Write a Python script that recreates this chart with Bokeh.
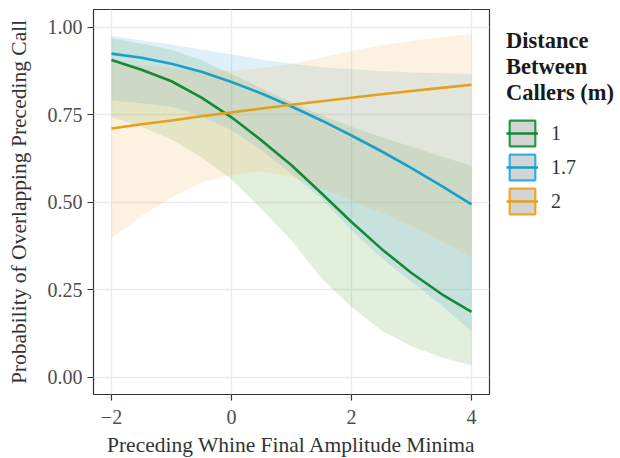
from bokeh.plotting import figure
from bokeh.models import FixedTicker, Legend, LegendItem, Range1d
from bokeh.embed import file_html
from bokeh.resources import INLINE

# ---- data ----
x_vals = [-2.0, -1.5, -1.0, -0.5, 0.0, 0.5, 1.0, 1.5, 2.0, 2.5, 3.0, 3.5, 4.0]

fit_1 = [0.906, 0.878, 0.845, 0.798, 0.742, 0.676, 0.605, 0.525, 0.443, 0.366, 0.297, 0.237, 0.186]
upr_1 = [0.968, 0.953, 0.935, 0.905, 0.866, 0.825, 0.785, 0.748, 0.715, 0.685, 0.658, 0.630, 0.604]
lwr_1 = [0.742, 0.715, 0.678, 0.628, 0.564, 0.480, 0.390, 0.282, 0.200, 0.133, 0.088, 0.056, 0.033]

fit_17 = [0.924, 0.912, 0.895, 0.872, 0.843, 0.810, 0.773, 0.733, 0.690, 0.645, 0.597, 0.546, 0.493]
upr_17 = [0.974, 0.962, 0.950, 0.936, 0.922, 0.907, 0.895, 0.886, 0.879, 0.874, 0.870, 0.868, 0.866]
lwr_17 = [0.790, 0.782, 0.772, 0.745, 0.705, 0.648, 0.580, 0.510, 0.420, 0.340, 0.272, 0.205, 0.129]

fit_2 = [0.710, 0.722, 0.733, 0.745, 0.756, 0.767, 0.778, 0.788, 0.798, 0.808, 0.817, 0.826, 0.835]
upr_2 = [0.900, 0.890, 0.882, 0.877, 0.876, 0.882, 0.895, 0.913, 0.932, 0.948, 0.961, 0.971, 0.980]
lwr_2 = [0.396, 0.460, 0.513, 0.556, 0.578, 0.588, 0.572, 0.540, 0.505, 0.470, 0.430, 0.387, 0.341]

groups = ["1", "1.7", "2"]
x_ticks = [-2, 0, 2, 4]
x_tick_labels = ["\u22122", "0", "2", "4"]
y_ticks = [0.0, 0.25, 0.5, 0.75, 1.0]
y_tick_labels = ["0.00", "0.25", "0.50", "0.75", "1.00"]

line_colors = ["#128a3a", "#1aa0c8", "#e3a01b"]
fill_colors = ["#44941c", "#2a9bde", "#f2a837"]
key_border = ["#1f9a45", "#35ade0", "#f2a51e"]

FONT = "Liberation Serif"

p = figure(frame_width=396, frame_height=385, output_backend="svg", toolbar_location=None,
           x_range=Range1d(-2.3, 4.3), y_range=Range1d(-0.05, 1.05),
           min_border_left=93, min_border_right=131, min_border_top=9, min_border_bottom=62)
p.background_fill_color = "white"
p.border_fill_color = "white"
p.outline_line_color = "#333333"
p.outline_line_width = 1.2

fits = [fit_1, fit_17, fit_2]
uprs = [upr_1, upr_17, upr_2]
lwrs = [lwr_1, lwr_17, lwr_2]

for i in range(3):
    p.varea(x=x_vals, y1=lwrs[i], y2=uprs[i], fill_color=fill_colors[i], fill_alpha=0.15)

line_rs = []
for i in range(3):
    r = p.line(x_vals, fits[i], line_color=line_colors[i], line_width=2.6)
    line_rs.append(r)

key_rs = []
for i in range(3):
    k = p.quad(left=[float("nan")], right=[float("nan")], top=[float("nan")], bottom=[float("nan")],
               fill_color="#d4d4d4", line_color=key_border[i], line_width=2.2)
    key_rs.append(k)

# axes
for ax in (p.xaxis[0], p.yaxis[0]):
    ax.axis_line_color = None
    ax.major_tick_line_color = "#333333"
    ax.major_tick_line_width = 1.2
    ax.major_tick_out = 6
    ax.major_tick_in = 0
    ax.minor_tick_line_color = None
    ax.major_label_text_font = FONT
    ax.major_label_text_font_size = "20px"
    ax.major_label_text_color = "#4d4d4d"
    ax.axis_label_text_font = FONT
    ax.axis_label_text_font_size = "21.5px"
    ax.axis_label_text_font_style = "normal"
    ax.axis_label_text_color = "#333333"

p.xaxis.ticker = FixedTicker(ticks=x_ticks)
p.yaxis.ticker = FixedTicker(ticks=y_ticks)
p.xaxis.major_label_overrides = {t: l for t, l in zip(x_ticks, x_tick_labels)}
p.yaxis.major_label_overrides = {t: l for t, l in zip(y_ticks, y_tick_labels)}
p.xaxis.axis_label = "Preceding Whine Final Amplitude Minima"
p.yaxis.axis_label = "Probability of Overlapping Preceding Call"
p.xaxis.major_label_standoff = 9
p.yaxis.major_label_standoff = 5
p.xaxis.axis_label_standoff = 6
p.yaxis.axis_label_standoff = 14

p.xgrid.ticker = FixedTicker(ticks=x_ticks)
p.ygrid.ticker = FixedTicker(ticks=y_ticks)
p.grid.grid_line_color = "#ebebeb"
p.grid.grid_line_width = 1.3

items = [LegendItem(label=groups[i], renderers=[key_rs[i], line_rs[i]]) for i in range(3)]
legend = Legend(items=items, location=(17, 177),
                title="Distance\nBetween\nCallers (m)",
                title_text_font=FONT, title_text_font_size="22.5px", title_text_font_style="bold",
                title_text_color="#1a1a1a", title_standoff=11, title_text_line_height=1.2,
                label_text_font=FONT, label_text_font_size="20px", label_text_color="#333333",
                glyph_width=32, glyph_height=32, spacing=2, label_standoff=13,
                padding=4, margin=0, border_line_color=None, background_fill_alpha=0)
p.add_layout(legend, "right")

open("out.html", "w").write(file_html(p, INLINE))
